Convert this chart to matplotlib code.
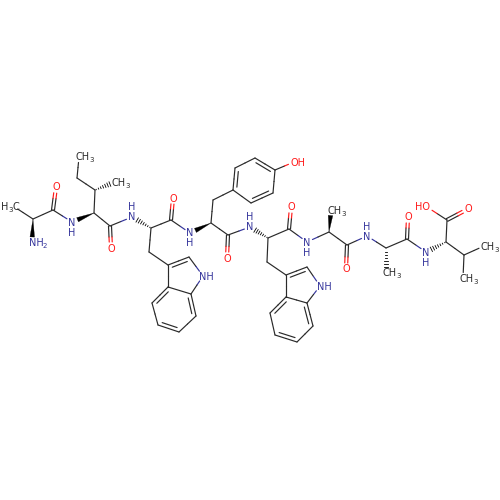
import matplotlib
matplotlib.use("Agg")
import matplotlib.pyplot as plt
import numpy as np

# atoms, in picture pixels
atom_names = ["me1", "ca1", "n1", "c1", "o1", "n2", "ca2", "cb2", "me2", "cg2", "me3", "c2", "o2",
              "n3", "ca3", "cb3", "w1a", "w1b", "w1n", "w1c", "w1d", "w1e", "w1f", "w1g", "w1h", "c3", "o3",
              "n4", "ca4", "cb4", "y1", "y2", "y3", "y4", "y5", "y6", "oh", "c4", "o4",
              "n5", "ca5", "cb5", "w2a", "w2b", "w2n", "w2c", "w2d", "w2e", "w2f", "w2g", "w2h", "c5", "o5",
              "n6", "ca6", "me6", "c6", "o6",
              "n7", "ca7", "me7", "c7", "o7",
              "n8", "ca8", "c8", "o8", "oh8", "cb8", "me8", "me9"]
atom_x = [13, 33, 32, 53, 56, 72, 94, 95, 115, 77, 79, 110, 111,
          132, 151, 149, 168, 189, 203, 191, 168, 152, 158, 179, 196, 171, 173,
          190, 211, 213, 233, 235, 255, 275, 273, 251, 294, 228, 227,
          250, 268, 267, 286, 307, 320, 307, 286, 270, 275, 297, 313, 289, 291,
          307, 329, 331, 347, 346,
          367, 386, 386, 407, 408,
          426, 446, 447, 468, 427, 464, 484, 463]
atom_y = [206, 219, 243, 210, 187, 222, 213, 190, 182, 178, 157, 226, 248,
          217, 228, 252, 265, 257, 276, 294, 287, 303, 325, 332, 316, 220, 198,
          233, 223, 200, 190, 168, 158, 170, 193, 203, 162, 235, 258,
          227, 238, 262, 275, 267, 286, 303, 297, 313, 335, 342, 326, 229, 207,
          242, 232, 210, 245, 269,
          236, 248, 272, 239, 217,
          252, 242, 220, 209, 207, 255, 246, 278]

# what is written at each labelled atom
label_atoms = ["me1", "n1", "o1", "n2", "me2", "me3", "o2", "n3", "w1n", "o3", "n4", "oh", "o4",
               "n5", "w2n", "o5", "n6", "me6", "o6", "n7", "me7", "o7", "n8", "o8", "oh8", "me8", "me9"]
label_kinds = ["H3C", "NH2", "O", "NH_down", "CH3", "CH3", "O", "NH_up", "NH", "O", "NH_down", "OH", "O",
               "NH_up", "NH", "O", "NH_down", "CH3", "O", "NH_up", "CH3", "O", "NH_down", "O", "HO", "CH3", "CH3"]

single_bonds = [("me1", "ca1"), ("ca1", "c1"), ("c1", "n2"), ("ca2", "cb2"), ("cb2", "cg2"), ("cg2", "me3"),
                ("ca2", "c2"), ("c2", "n3"), ("ca3", "cb3"), ("cb3", "w1a"), ("w1b", "w1n"), ("w1n", "w1c"),
                ("w1c", "w1d"), ("w1d", "w1a"), ("w1e", "w1f"), ("w1g", "w1h"), ("ca3", "c3"), ("c3", "n4"),
                ("ca4", "cb4"), ("cb4", "y1"), ("y2", "y3"), ("y4", "y5"), ("y6", "y1"), ("y4", "oh"),
                ("ca4", "c4"), ("c4", "n5"), ("ca5", "cb5"), ("cb5", "w2a"), ("w2b", "w2n"), ("w2n", "w2c"),
                ("w2c", "w2d"), ("w2d", "w2a"), ("w2e", "w2f"), ("w2g", "w2h"), ("ca5", "c5"), ("c5", "n6"),
                ("n6", "ca6"), ("ca6", "c6"), ("c6", "n7"), ("n7", "ca7"), ("ca7", "c7"), ("c7", "n8"),
                ("ca8", "c8"), ("c8", "oh8"), ("ca8", "cb8"), ("cb8", "me8"), ("cb8", "me9")]
carbonyl_bonds = [("c1", "o1"), ("c2", "o2"), ("c3", "o3"), ("c4", "o4"), ("c5", "o5"),
                  ("c6", "o6"), ("c7", "o7"), ("c8", "o8")]
ring_double_bonds = [("w1a", "w1b"), ("w1d", "w1e"), ("w1f", "w1g"), ("w1h", "w1c"),
                     ("y1", "y2"), ("y3", "y4"), ("y5", "y6"),
                     ("w2a", "w2b"), ("w2d", "w2e"), ("w2f", "w2g"), ("w2h", "w2c")]
wedge_bonds = [("ca1", "n1"), ("ca2", "n2"), ("ca4", "n4"), ("ca6", "me6")]
hash_bonds = [("cb2", "me2"), ("ca3", "n3"), ("ca5", "n5"), ("ca7", "me7"), ("ca8", "n8")]

rings = [["w1a", "w1b", "w1n", "w1c", "w1d"], ["w1d", "w1e", "w1f", "w1g", "w1h", "w1c"],
         ["y1", "y2", "y3", "y4", "y5", "y6"],
         ["w2a", "w2b", "w2n", "w2c", "w2d"], ["w2d", "w2e", "w2f", "w2g", "w2h", "w2c"]]

BLUE = "#35359c"
RED = "#ff1a1a"
BOND = "#2a2a2a"
LW = 0.85
FS = 7.0
FS_SUB = 5.0

pos = {n: np.array([x, y], dtype=float) for n, x, y in zip(atom_names, atom_x, atom_y)}
kinds = dict(zip(label_atoms, label_kinds))


def atom_color(name):
    kind = kinds.get(name, "")
    if kind in ("O", "OH", "HO"):
        return RED
    if kind.startswith("N"):
        return BLUE
    return BOND


def gap(name):
    if name not in kinds:
        return 0.0
    return 6.0 if kinds[name] not in ("CH3", "H3C") else 5.5


def half_line(ax, a, b, offset=np.zeros(2)):
    # two colour bond, each half takes the colour of its atom
    pa, pb = pos[a], pos[b]
    d = (pb - pa) / np.linalg.norm(pb - pa)
    mid = (pa + pb) / 2 + offset
    start = pa + d * gap(a) + offset
    end = pb - d * gap(b) + offset
    ax.plot(*zip(start, mid), color=atom_color(a), lw=LW, solid_capstyle="round")
    ax.plot(*zip(mid, end), color=atom_color(b), lw=LW, solid_capstyle="round")


def draw_ring_double(ax, a, b):
    half_line(ax, a, b)
    ring = [r for r in rings if a in r and b in r][0]
    center = np.mean([pos[n] for n in ring], axis=0)
    pa, pb = pos[a], pos[b]
    d = (pb - pa) / np.linalg.norm(pb - pa)
    n = np.array([-d[1], d[0]])
    if np.dot(center - pa, n) < 0:
        n = -n
    start = pa + n * 3.6 + d * 3.2
    end = pb + n * 3.6 - d * 3.2
    ax.plot(*zip(start, end), color=BOND, lw=LW, solid_capstyle="round")


def draw_wedge(ax, a, b):
    pa, pb = pos[a], pos[b]
    d = (pb - pa) / np.linalg.norm(pb - pa)
    n = np.array([-d[1], d[0]])
    tip = pb - d * gap(b)
    ax.fill(*zip(pa, tip + n * 2.3, tip - n * 2.3), color="black", lw=0.2)


def draw_hash(ax, a, b):
    pa, pb = pos[a], pos[b]
    d = (pb - pa) / np.linalg.norm(pb - pa)
    n = np.array([-d[1], d[0]])
    length = np.linalg.norm(pb - pa) - gap(b)
    for t in np.linspace(0.08, 1.0, 7):
        p = pa + d * length * t
        ax.plot(*zip(p - n * 2.4 * t, p + n * 2.4 * t), color="black", lw=0.6)


def put(ax, x, y, text, color, ha="center"):
    ax.text(x, y + 3.5, text, color=color, fontsize=FS, ha=ha, va="baseline")


def put_sub(ax, x, y, text, color):
    ax.text(x, y + 5.5, text, color=color, fontsize=FS_SUB, ha="left", va="baseline")


def draw_label(ax, name, kind):
    x, y = pos[name]
    color = atom_color(name)
    if kind == "CH3":
        put(ax, x - 3.5, y, "CH", BOND, ha="left")
        put_sub(ax, x + 10.6, y, "3", BOND)
    elif kind == "H3C":
        put(ax, x - 12.3, y, "H", BOND, ha="left")
        put_sub(ax, x - 5.0, y, "3", BOND)
        put(ax, x + 2.6, y, "C", BOND)
    elif kind == "NH2":
        put(ax, x - 3.5, y, "NH", color, ha="left")
        put_sub(ax, x + 10.9, y, "2", color)
    elif kind == "NH":
        put(ax, x - 3.5, y, "NH", color, ha="left")
    elif kind == "OH":
        put(ax, x - 3.5, y, "OH", color, ha="left")
    elif kind == "HO":
        put(ax, x + 3.5, y, "HO", color, ha="right")
    elif kind == "NH_up":
        put(ax, x, y, "N", color)
        put(ax, x, y - 10, "H", color)
    elif kind == "NH_down":
        put(ax, x, y, "N", color)
        put(ax, x, y + 10, "H", color)
    else:
        put(ax, x, y, kind, color)


fig = plt.figure(figsize=(5, 5), dpi=100)
ax = fig.add_axes([0, 0, 1, 1])

for a, b in single_bonds:
    half_line(ax, a, b)

for a, b in carbonyl_bonds:
    pa, pb = pos[a], pos[b]
    d = (pb - pa) / np.linalg.norm(pb - pa)
    n = np.array([-d[1], d[0]])
    half_line(ax, a, b, n * 1.5)
    half_line(ax, a, b, -n * 1.5)

for a, b in ring_double_bonds:
    draw_ring_double(ax, a, b)
for a, b in wedge_bonds:
    draw_wedge(ax, a, b)
for a, b in hash_bonds:
    draw_hash(ax, a, b)

for name, kind in zip(label_atoms, label_kinds):
    draw_label(ax, name, kind)

ax.set_xlim(0, 500)
ax.set_ylim(500, 0)
ax.axis("off")

fig.savefig("out.png", dpi=100, facecolor="white")
